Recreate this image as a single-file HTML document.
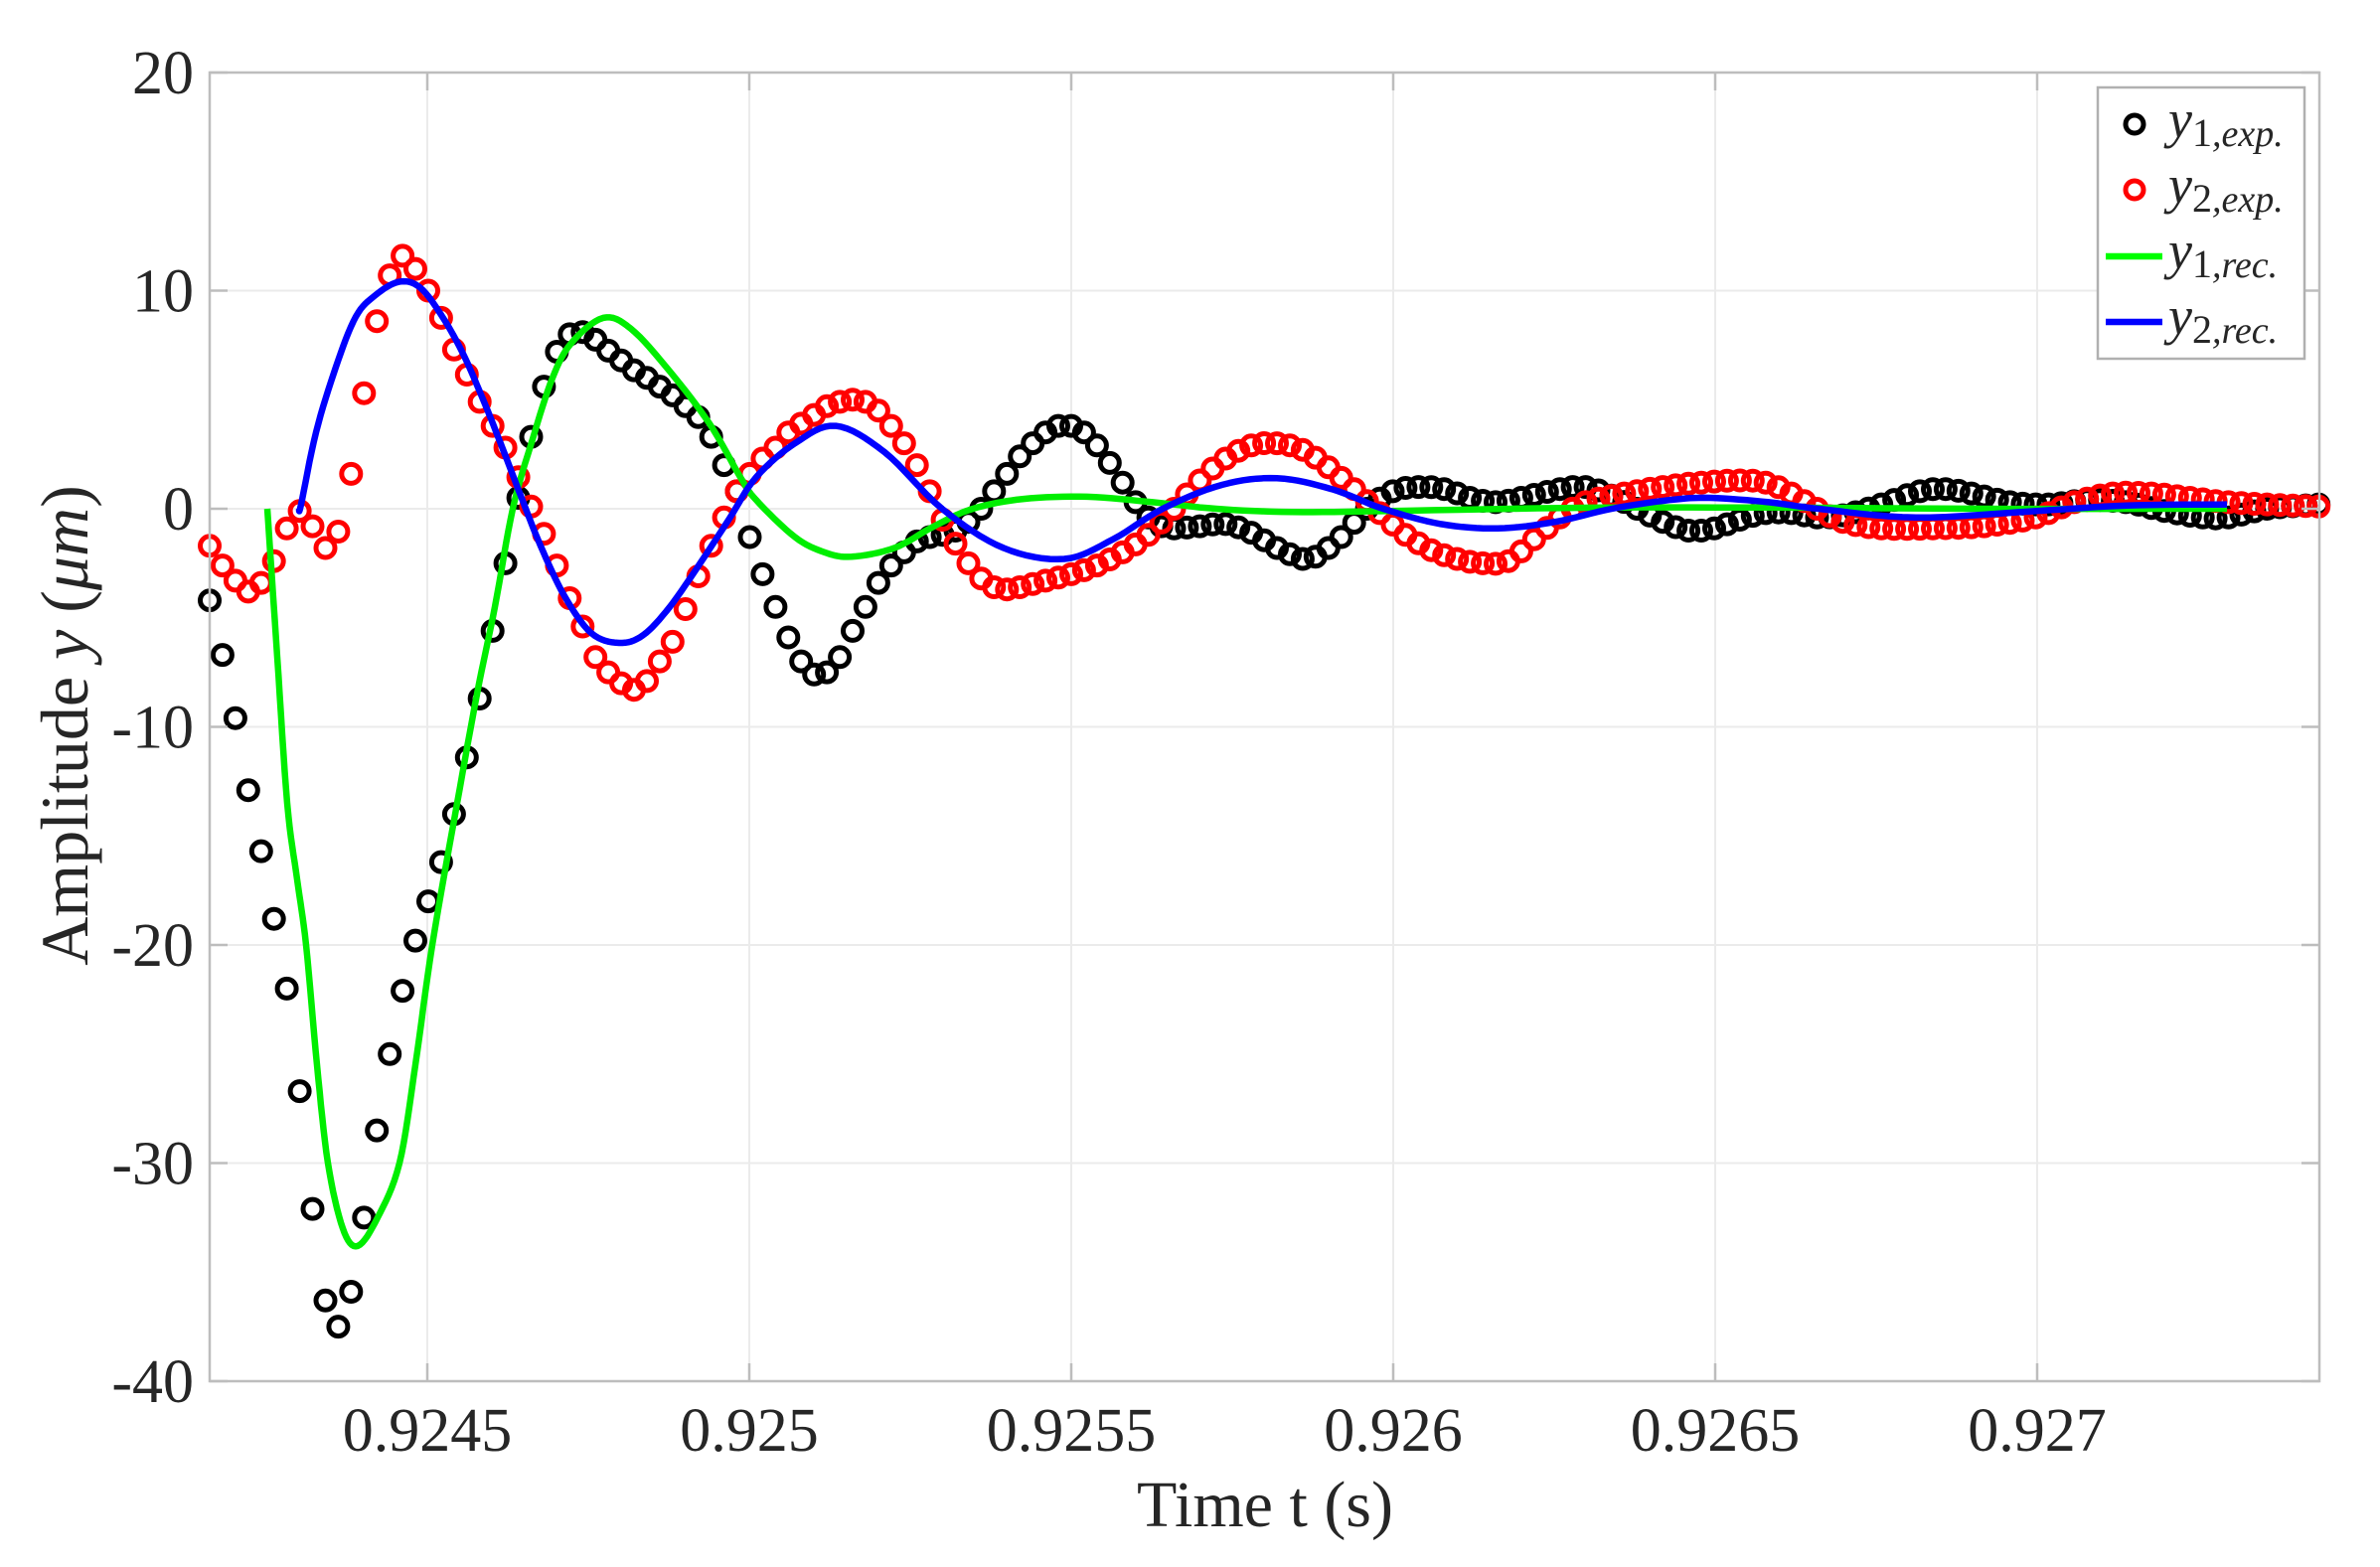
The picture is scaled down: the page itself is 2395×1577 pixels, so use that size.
<!DOCTYPE html>
<html><head><meta charset="utf-8"><style>
html,body{margin:0;padding:0;background:#fff;}
svg{display:block;}
text{font-family:"Liberation Serif",serif;fill:#262626;}
</style></head><body>
<svg id="s" width="2395" height="1577" viewBox="0 0 2395 1577" xmlns="http://www.w3.org/2000/svg">
<rect width="2395" height="1577" fill="#fff"/>
<g id="grid"></g>
<g id="data"></g>
<g id="axes"></g>
<g id="legend">
<rect x="2111" y="88" width="208" height="273" fill="#fff" stroke="#b0b0b0" stroke-width="2.5"/>
<circle cx="2148" cy="125" r="9" fill="none" stroke="#000" stroke-width="5"/>
<circle cx="2148" cy="191" r="9" fill="none" stroke="#f00" stroke-width="5"/>
<line x1="2119" y1="258" x2="2176" y2="258" stroke="#0f0" stroke-width="6.5"/>
<line x1="2119" y1="324" x2="2176" y2="324" stroke="#00f" stroke-width="6.5"/>
<text x="2182" y="138" font-size="54" font-style="italic">y<tspan font-size="40" font-style="normal" dy="9">1</tspan><tspan font-size="38" dy="0">,exp.</tspan></text>
<text x="2182" y="204" font-size="54" font-style="italic">y<tspan font-size="40" font-style="normal" dy="9">2</tspan><tspan font-size="38" dy="0">,exp.</tspan></text>
<text x="2182" y="270" font-size="54" font-style="italic">y<tspan font-size="40" font-style="normal" dy="9">1</tspan><tspan font-size="38" dy="0">,rec.</tspan></text>
<text x="2182" y="336" font-size="54" font-style="italic">y<tspan font-size="40" font-style="normal" dy="9">2</tspan><tspan font-size="38" dy="0">,rec.</tspan></text>
</g>
<text x="1273" y="1536" font-size="66" text-anchor="middle">Time t (s)</text>
<text transform="translate(88,730) rotate(-90)" font-size="68" text-anchor="middle">Amplitude <tspan font-style="italic">y</tspan> (<tspan font-style="italic">μm</tspan>)</text>
</svg>
<script>
var NS="http://www.w3.org/2000/svg";
function el(p,t,a,txt){var e=document.createElementNS(NS,t);for(var k in a)e.setAttribute(k,a[k]);if(txt!==undefined)e.textContent=txt;document.getElementById(p).appendChild(e);return e;}
var L=211,R=2334,T=73,B=1390;
function Y(v){return 512-v*21.95;}
for(var v=-40;v<=20;v+=10){var y=Y(v);
 if(v>-40&&v<20) el("grid","line",{x1:L,y1:y,x2:R,y2:y,stroke:"#ebebeb","stroke-width":2});
 el("axes","line",{x1:L,y1:y,x2:L+18,y2:y,stroke:"#bdbdbd","stroke-width":2.5});
 el("axes","line",{x1:R,y1:y,x2:R-18,y2:y,stroke:"#bdbdbd","stroke-width":2.5});
 el("axes","text",{x:195,y:y+21,"font-size":62,"text-anchor":"end"},String(v));
}
var xl=["0.9245","0.925","0.9255","0.926","0.9265","0.927"];
for(var i=0;i<6;i++){var x=430+324*i;
 el("grid","line",{x1:x,y1:T,x2:x,y2:B,stroke:"#ebebeb","stroke-width":2});
 el("axes","line",{x1:x,y1:B,x2:x,y2:B-18,stroke:"#bdbdbd","stroke-width":2.5});
 el("axes","line",{x1:x,y1:T,x2:x,y2:T+18,stroke:"#bdbdbd","stroke-width":2.5});
 el("axes","text",{x:x,y:1460,"font-size":62,"text-anchor":"middle"},xl[i]);
}
el("axes","rect",{x:L,y:T,width:R-L,height:B-T,fill:"none",stroke:"#bdbdbd","stroke-width":2.5});

function cr(pts,n){
 var out=[];
 for(var i=0;i<pts.length-1;i++){
  var p0=pts[Math.max(0,i-1)],p1=pts[i],p2=pts[i+1],p3=pts[Math.min(pts.length-1,i+2)];
  for(var k=0;k<n;k++){var t=k/n,t2=t*t,t3=t2*t;
   var f=function(a,b,c,d){return 0.5*((2*b)+(-a+c)*t+(2*a-5*b+4*c-d)*t2+(-a+3*b-3*c+d)*t3);};
   out.push([f(p0[0],p1[0],p2[0],p3[0]),f(p0[1],p1[1],p2[1],p3[1])]);}
 }
 out.push(pts[pts.length-1]);return out;
}
var DX=12.94;
function expSeries(early,kp){
 var pts=[];for(var i=0;i<early.length;i++)pts.push([i,early[i]]);
 for(var j=0;j<kp.length;j+=2)pts.push([kp[j],kp[j+1]]);
 var dense=cr(pts,40);var vals=[];
 for(var i=0;i<=164;i++){
  if(i<early.length){vals.push(early[i]);continue;}
  var best=null,bd=1e9;for(var q=0;q<dense.length;q++){var d=Math.abs(dense[q][0]-i);if(d<bd){bd=d;best=dense[q][1];}}
  vals.push(best);}
 return vals;
}
var blackE=[-4.2,-6.7,-9.6,-12.9,-15.7,-18.8,-22,-26.7,-32.1,-36.3,-37.5,-35.9,-32.5,-28.5,-25,-22.1,-19.8,-18,-16.2,-14,-11.4,-8.7,-5.6,-2.5,0.5,3.3,5.6,7.2,8.0,8.1,7.75,7.25,6.8,6.35,6.0,5.6,5.2,4.7,4.2,3.3,2.0,0.8,-1.3,-3,-4.5,-5.9];
var blackK=[46,-7.0,47,-7.6,48,-7.5,49,-6.8,50,-5.6,51,-4.5,52,-3.4,53,-2.6,54,-2,55,-1.5,56,-1.3,57,-1.2,58,-1.0,59,-0.6,60,0,61,0.8,62,1.6,63,2.4,64,3.0,65,3.5,66,3.8,67,3.8,68,3.5,69,2.9,70,2.1,71,1.2,72,0.3,73,-0.4,74,-0.8,75,-0.9,77,-0.8,79,-0.7,81,-1.1,83,-1.8,85,-2.3,86,-2.2,88,-1.3,90,0,92,0.8,94,1.0,96,0.9,98,0.5,100,0.3,102,0.5,105,0.9,107,1.0,109,0.6,111,0,113,-0.6,115,-1.0,117,-0.9,119,-0.5,121,-0.2,123,-0.2,125,-0.4,127,-0.3,130,0.2,133,0.8,135,0.9,137,0.7,140,0.3,143,0.2,146,0.4,149,0.3,152,-0.1,155,-0.4,157,-0.4,160,0,164,0.2];
var redE=[-1.7,-2.6,-3.3,-3.8,-3.4,-2.4,-0.9,-0.1,-0.8,-1.8,-1.05,1.6,5.3,8.6,10.7,11.6,11,10,8.75,7.3,6.15,4.9,3.8,2.8,1.45,0.1,-1.15,-2.6,-4.1,-5.4,-6.8,-7.5,-8,-8.3,-7.9,-7,-6.1,-4.6,-3.1,-1.7,-0.4,0.8,1.6,2.3,2.8,3.5];
var redK=[46,3.9,47,4.3,48,4.7,49,4.9,50,5.0,51,4.9,52,4.5,53,3.8,54,3,55,2,56,0.8,57,-0.5,58,-1.6,59,-2.5,60,-3.2,61,-3.6,62,-3.7,63,-3.6,65,-3.3,67,-3.0,69,-2.6,71,-2,73,-1.2,75,0,77,1.3,79,2.3,81,2.9,83,3.0,85,2.7,87,1.9,89,0.9,91,-0.2,93,-1.2,95,-1.9,97,-2.3,99,-2.5,101,-2.4,103,-1.4,105,-0.4,107,0.3,110,0.7,113,1.0,116,1.2,119,1.3,121,1.2,123,0.7,125,0,127,-0.6,130,-0.9,134,-0.9,138,-0.8,142,-0.4,145,0.3,148,0.7,151,0.7,154,0.5,157,0.3,160,0.2,164,0.1];
function drawExp(vals,col){
 for(var i=0;i<vals.length;i++) el("data","circle",{cx:(L+i*DX).toFixed(1),cy:Y(vals[i]).toFixed(1),r:9.5,fill:"none",stroke:col,"stroke-width":5});
}
drawExp(expSeries(blackE,blackK),"#000");
drawExp(expSeries(redE,redK),"#f00");
function drawLine(kp,col,n){
 var pts=[];for(var j=0;j<kp.length;j+=2)pts.push([kp[j],Y(kp[j+1])]);
 var d=cr(pts,n);var s="M";for(var i=0;i<d.length;i++)s+=(i?" L":"")+d[i][0].toFixed(1)+","+d[i][1].toFixed(1);
 el("data","path",{d:s,fill:"none",stroke:col,"stroke-width":6.5,"stroke-linejoin":"round"});
}
drawLine([269,0,279,-6.8,289,-13.5,299,-17,308,-20,319,-25.5,330,-30,345,-33,360,-33.8,380,-32.5,402,-30,418,-25.5,435,-20,460,-13.5,480,-8.5,498,-4.5,516,0,536,3.2,556,6,575,7.6,607,8.75,635,8.25,674,6.3,714,3.9,745,1.45,761,0.4,800,-1.3,830,-2.0,857,-2.2,900,-1.8,940,-0.8,979,0,1030,0.45,1094,0.55,1160,0.3,1224,0,1300,-0.15,1400,-0.1,1600,0.05,1800,0.05,2000,0,2241,0],"#00ee00",8);
drawLine([301,0,303,0.2,318,3.5,338,6.5,358,8.8,378,9.8,401,10.4,421,10.2,441,9.1,465,7.2,488,4.8,508,2.5,524,0.6,544,-1.7,568,-4,595,-5.7,623,-6.15,647,-5.8,674,-4.5,706,-2.4,734,-0.45,761,1.45,800,3.0,841,3.8,890,2.6,948,0,1010,-1.8,1071,-2.3,1120,-1.4,1170,0,1230,1.1,1285,1.4,1340,0.9,1392,0,1450,-0.7,1507,-0.9,1565,-0.6,1622,0,1680,0.4,1721,0.5,1780,0.3,1830,0,1928,-0.4,2050,-0.1,2140,0.15,2241,0.2],"#0000ff",8);
</script>
</body></html>
